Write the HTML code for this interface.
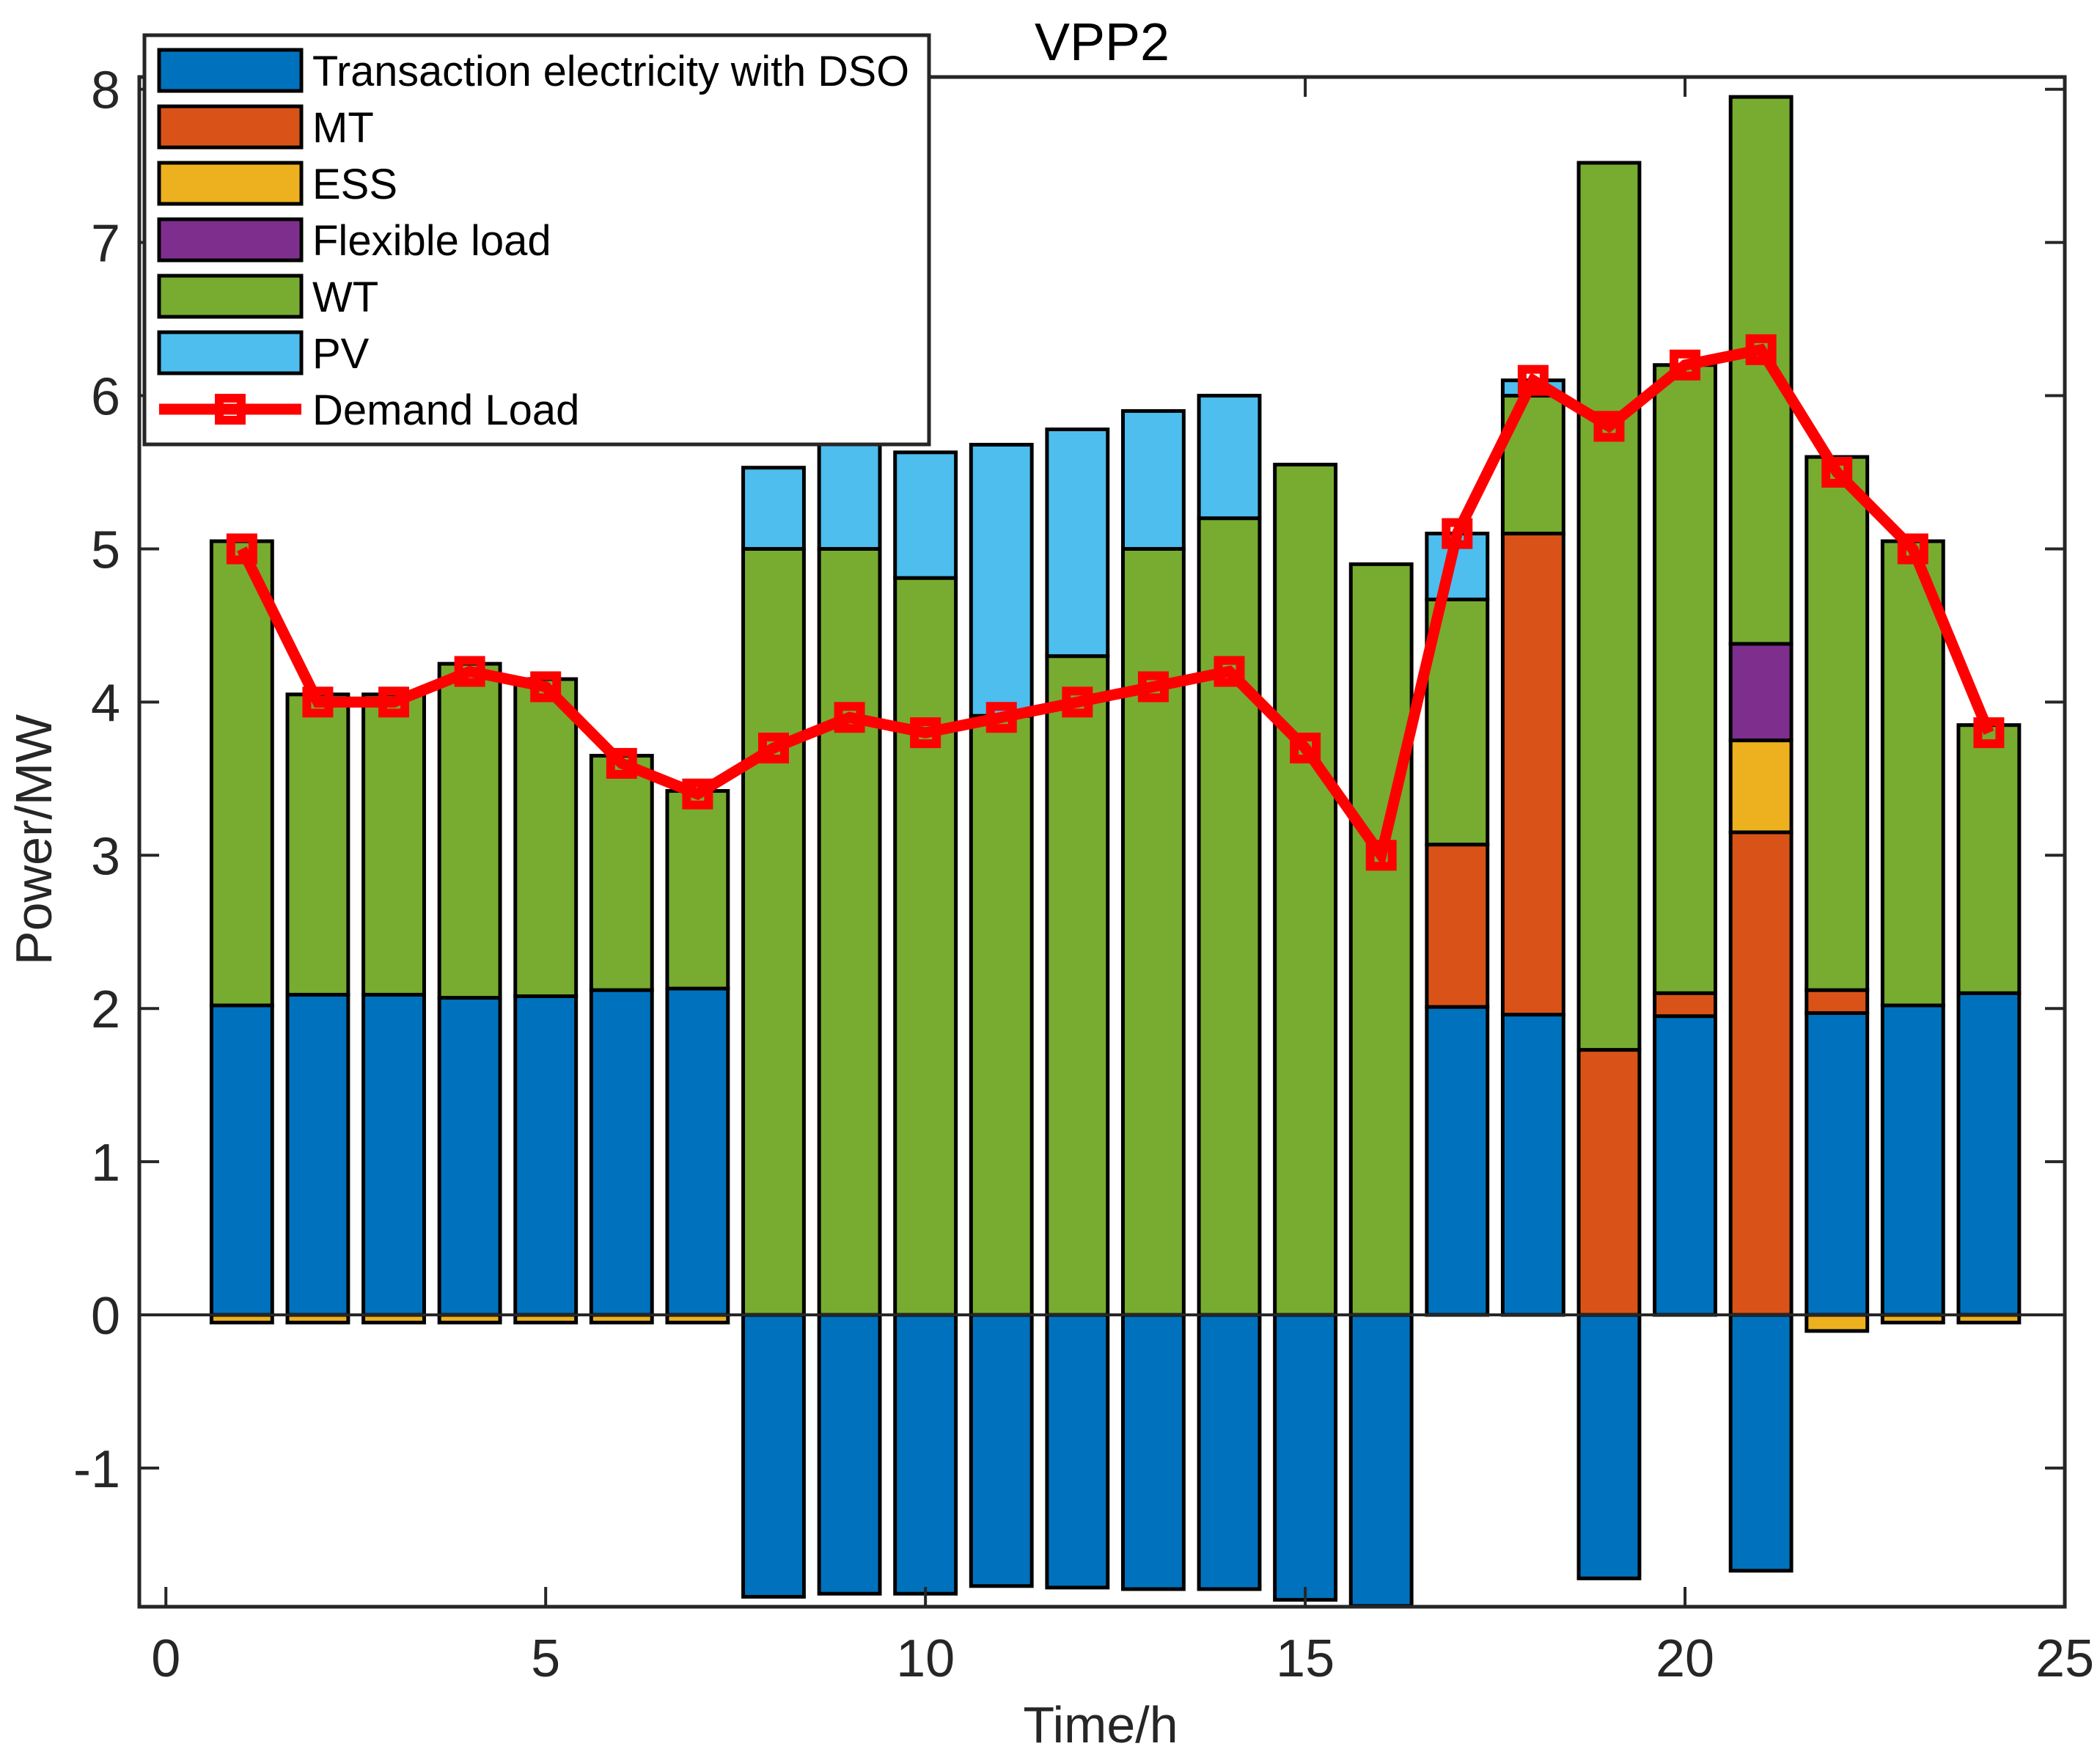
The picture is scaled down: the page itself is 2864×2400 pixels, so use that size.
<!DOCTYPE html>
<html><head><meta charset="utf-8"><style>
html,body{margin:0;padding:0;background:#fff;}
svg{display:block;font-family:"Liberation Sans",Arial,sans-serif;}
</style></head><body>
<svg id="chart" width="2864" height="2400" viewBox="0 0 2864 2400" xmlns="http://www.w3.org/2000/svg">
<rect width="2864" height="2400" fill="#fff"/>
<g id="bars"></g>
<g id="axes"></g>
<g id="line"></g>
<text x="1503" y="82" font-size="72" text-anchor="middle" fill="#000">VPP2</text>
<text x="1501" y="2376" font-size="70" text-anchor="middle" fill="#262626">Time/h</text>
<text transform="translate(70,1145) rotate(-90)" font-size="70" text-anchor="middle" fill="#262626">Power/MW</text>
<g id="legend"></g>
</svg>
<script>
const hours=[1,2,3,4,5,6,7,8,9,10,11,12,13,14,15,16,17,18,19,20,21,22,23,24];
const dso=[2.02,2.09,2.09,2.07,2.08,2.12,2.13,-1.84,-1.82,-1.82,-1.77,-1.78,-1.79,-1.79,-1.86,-1.9,2.01,1.96,-1.72,1.95,-1.67,1.97,2.02,2.1];
const mt=[0,0,0,0,0,0,0,0,0,0,0,0,0,0,0,0,1.06,3.14,1.73,0.15,3.15,0.15,0,0];
const ess=[-0.05,-0.05,-0.05,-0.05,-0.05,-0.05,-0.05,0,0,0,0,0,0,0,0,0,0,0,0,0,0.6,-0.105,-0.05,-0.05];
const flex=[0,0,0,0,0,0,0,0,0,0,0,0,0,0,0,0,0,0,0,0,0.63,0,0,0];
const wt=[3.03,1.96,1.96,2.18,2.07,1.53,1.29,5.0,5.0,4.81,3.91,4.3,5.0,5.2,5.55,4.9,1.6,0.9,5.79,4.1,3.57,3.48,3.03,1.75];
const pv=[0,0,0,0,0,0,0,0.53,0.75,0.82,1.77,1.48,0.9,0.8,0,0,0.43,0.1,0,0,0,0,0,0];
const demand=[5,4,4,4.2,4.1,3.6,3.4,3.7,3.9,3.8,3.9,4.0,4.1,4.2,3.7,3.0,5.1,6.1,5.8,6.2,6.3,5.5,5.0,3.8];
const xTicks=[0,5,10,15,20,25];
const yTicks=[-1,0,1,2,3,4,5,6,7,8];
const seriesNames=["Transaction electricity with DSO","MT","ESS","Flexible load","WT","PV"];
const seriesColors=["#0072BD","#D95319","#EDB120","#7E2F8E","#77AC30","#4DBEEE"];

const NS="http://www.w3.org/2000/svg";
const L=190,R=2816,T=105,B=2191;
const xmin=-0.35,xmax=25.0,ymin=-1.905,ymax=8.08;
const X=v=>L+(v-xmin)/(xmax-xmin)*(R-L);
const Y=v=>B-(v-ymin)/(ymax-ymin)*(B-T);
function mk(tag,attrs,parent){const e=document.createElementNS(NS,tag);for(const k in attrs)e.setAttribute(k,attrs[k]);parent.appendChild(e);return e;}

const barsG=document.getElementById('bars');
const series=[dso,mt,ess,flex,wt,pv];
const keys=["dso","mt","ess","flexible-load","wt","pv"];
const bw=0.8;
hours.forEach((h,i)=>{
  let pos=0,neg=0;
  series.forEach((s,k)=>{
    const v=s[i]; if(v===0) return;
    let y0,y1;
    if(v>0){y0=pos;y1=pos+v;pos=y1;}else{y0=neg;y1=neg+v;neg=y1;}
    const r=mk('rect',{x:X(h-bw/2),y:Y(Math.max(y0,y1)),width:X(h+bw/2)-X(h-bw/2),height:Math.abs(Y(y0)-Y(y1)),fill:seriesColors[k],stroke:'#000','stroke-width':5},barsG);
    
    
  });
});

const ax=document.getElementById('axes');
const zl=mk('line',{x1:L,x2:R,y1:Y(0),y2:Y(0),stroke:'#262626','stroke-width':4},ax);


const box=mk('rect',{x:L,y:T,width:R-L,height:B-T,fill:'none',stroke:'#262626','stroke-width':5},ax);


xTicks.forEach(t=>{
  const x=X(t);
  mk('line',{x1:x,x2:x,y1:B,y2:B-27,stroke:'#262626','stroke-width':4},ax);
  mk('line',{x1:x,x2:x,y1:T,y2:T+27,stroke:'#262626','stroke-width':4},ax);
  const tx=mk('text',{x:x,y:2286,'font-size':72,'text-anchor':'middle',fill:'#262626'},ax);
  tx.textContent=t;
  
  
});
yTicks.forEach(t=>{
  const y=Y(t);
  mk('line',{x1:L,x2:L+27,y1:y,y2:y,stroke:'#262626','stroke-width':4},ax);
  mk('line',{x1:R,x2:R-27,y1:y,y2:y,stroke:'#262626','stroke-width':4},ax);
  const tx=mk('text',{x:164,y:y+26,'font-size':72,'text-anchor':'end',fill:'#262626'},ax);
  tx.textContent=t;
  
  
});

const lg=document.getElementById('line');
const pts=hours.map((h,i)=>X(h)+','+Y(demand[i])).join(' ');
const pl=mk('polyline',{points:pts,fill:'none',stroke:'#FF0000','stroke-width':15,'stroke-linejoin':'miter'},lg);


hours.forEach((h,i)=>{
  const m=mk('rect',{x:X(h)-15,y:Y(demand[i])-15,width:30,height:30,fill:'none',stroke:'#FF0000','stroke-width':12},lg);
  
  
});

const leg=document.getElementById('legend');
const lb=mk('rect',{x:197,y:48,width:1070,height:558,fill:'#fff',stroke:'#262626','stroke-width':5},leg);


seriesNames.forEach((n,k)=>{
  const cy=96+k*77;
  const sw=mk('rect',{x:217,y:cy-28,width:194,height:56,fill:seriesColors[k],stroke:'#000','stroke-width':5},leg);
  
  
  const attrs={x:426,y:cy+21,'font-size':58,fill:'#000'};
  if(k===0){attrs.textLength=814;attrs.lengthAdjust='spacingAndGlyphs';}
  const tx=mk('text',attrs,leg);
  tx.textContent=n;
  
  
});
const dcy=96+6*77;
const ll=mk('line',{x1:217,x2:411,y1:dcy,y2:dcy,stroke:'#FF0000','stroke-width':15},leg);


const lm=mk('rect',{x:314-15,y:dcy-15,width:30,height:30,fill:'none',stroke:'#FF0000','stroke-width':12},leg);


const dt=mk('text',{x:426,y:dcy+21,'font-size':58,fill:'#000'},leg);
dt.textContent='Demand Load';


</script>
</body></html>
